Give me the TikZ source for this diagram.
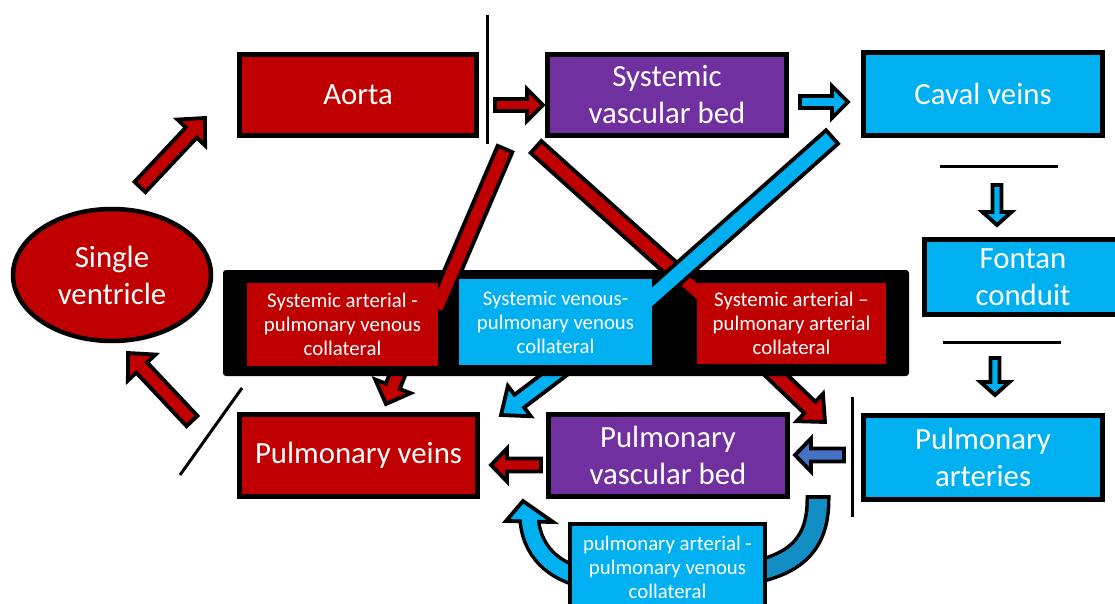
\documentclass[tikz,border=0pt]{standalone}
\usepackage{fontspec}
\setmainfont{Carlito}
\usetikzlibrary{calc,shapes.geometric}
\definecolor{cred}{RGB}{192,0,0}
\definecolor{cpurple}{RGB}{112,48,160}
\definecolor{ccyan}{RGB}{0,176,240}
\definecolor{cblue}{RGB}{68,114,196}
\definecolor{cdcyan}{RGB}{18,142,196}
\pgfdeclarelayer{l0}\pgfdeclarelayer{l1}\pgfdeclarelayer{l2}
\pgfsetlayers{l0,l1,l2,main}
\tikzset{
 box/.style={draw=black, line width=5pt, text=white, align=center, inner sep=0pt},
 inbox/.style={text=white, align=center, inner sep=0pt},
 bigtext/.style={font=\fontsize{30.8}{37}\selectfont},
 smalltext/.style={font=\fontsize{20.8}{24}\selectfont},
 arrowline/.style={draw=black, line width=3.8pt, line join=miter},
 sepline/.style={draw=black, line width=3pt},
}
\newcommand{\blockarrow}[6]{%
  \coordinate (BAneck) at ($(#3)!#6!(#2)$);
  \draw[arrowline, fill=#1] ($(#2)!#4!90:(#3)$) -- ($(BAneck)!#4!90:(#3)$) -- ($(BAneck)!#5!90:(#3)$) -- (#3) -- ($(BAneck)!#5!-90:(#3)$) -- ($(BAneck)!#4!-90:(#3)$) -- ($(#2)!#4!-90:(#3)$) -- cycle;
}
\newcommand{\bandarrow}[4]{%
  \draw[arrowline, fill=#1] ($(#2)!#4!90:(#3)$) -- ($(#3)!#4!-90:(#2)$) -- ($(#3)!#4!90:(#2)$) -- ($(#2)!#4!-90:(#3)$) -- cycle;
}
\begin{document}
\begin{tikzpicture}[x=1pt,y=-1pt]
\useasboundingbox (0,0) rectangle (1115,604);
% main boxes
\node[box, ellipse, line width=4.5pt, fill=cred, bigtext, minimum width=198pt, minimum height=132pt] (sv) at (112,275) {Single\\ventricle};
\node[box, fill=cred, bigtext, minimum width=237pt, minimum height=81pt] (aorta) at (358,95) {Aorta};
\node[box, fill=cpurple, bigtext, minimum width=239pt, minimum height=81pt] (svb) at (667,95) {Systemic\\vascular bed};
\node[box, fill=ccyan, bigtext, minimum width=239pt, minimum height=83pt] (caval) at (983,94) {Caval veins};
\node[box, fill=ccyan, bigtext, minimum width=197pt, minimum height=75pt] (fontan) at (1023,277) {Fontan\\conduit};
\node[box, fill=ccyan, bigtext, minimum width=239pt, minimum height=84pt] (pa) at (983,457.5) {Pulmonary\\arteries};
\node[box, fill=cpurple, bigtext, minimum width=239pt, minimum height=82pt] (pvb) at (668,455.5) {Pulmonary\\vascular bed};
\node[box, fill=cred, bigtext, minimum width=238pt, minimum height=82pt] (pv) at (358.5,455.5) {Pulmonary veins};
\node[inbox, fill=cred, smalltext, minimum width=191pt, minimum height=83pt] (c1) at (342.5,324.5) {Systemic arterial -\\pulmonary venous\\collateral};
\node[inbox, fill=ccyan, smalltext, minimum width=193pt, minimum height=86pt] (c2) at (555.5,322) {Systemic venous-\\pulmonary venous\\collateral};
\node[inbox, fill=cred, smalltext, minimum width=189pt, minimum height=81pt] (c3) at (791.5,323.5) {Systemic arterial –\\pulmonary arterial\\collateral};
\node[box, line width=4.5pt, fill=ccyan, smalltext, minimum width=195pt, minimum height=87pt] (c4) at (667.5,567.5) {pulmonary arterial -\\pulmonary venous\\collateral};
% black frame
\begin{pgfonlayer}{l1}
\node[fill=black, rounded corners=3pt, minimum width=686pt, minimum height=106pt, inner sep=0pt] (blk) at (566,323) {};
\end{pgfonlayer}
% separator lines
\coordinate (v1a) at (487,15); \coordinate (v1b) at (487,144);
\coordinate (h1a) at (940,167); \coordinate (h1b) at (1058,167);
\coordinate (h2a) at (943,342); \coordinate (h2b) at (1061,342);
\coordinate (v2a) at (852,397); \coordinate (v2b) at (852,517);
\coordinate (sla) at (242,388); \coordinate (slb) at (180,475);
\draw[sepline] (v1a) -- (v1b);
\draw[sepline] (h1a) -- (h1b);
\draw[sepline] (h2a) -- (h2b);
\draw[sepline] (v2a) -- (v2b);
\draw[sepline] (sla) -- (slb);
% main flow arrows
\coordinate (a1s) at (140,187); \coordinate (a1e) at (205,118);
\coordinate (a2s) at (192,421); \coordinate (a2e) at (128,353);
\coordinate (a3s) at (495,105); \coordinate (a3e) at (543,105);
\coordinate (a4s) at (800,102); \coordinate (a4e) at (848,102);
\coordinate (a5s) at (997,185); \coordinate (a5e) at (997,225);
\coordinate (a6s) at (995,358); \coordinate (a6e) at (995,395);
\coordinate (a7s) at (844,455); \coordinate (a7e) at (795,455);
\coordinate (a8s) at (541,465); \coordinate (a8e) at (491,465);
\blockarrow{cred}{a1s}{a1e}{7.5pt}{19pt}{20pt}
\blockarrow{cred}{a2s}{a2e}{7.5pt}{19pt}{20pt}
\blockarrow{cred}{a3s}{a3e}{6pt}{16pt}{16pt}
\blockarrow{ccyan}{a4s}{a4e}{6pt}{16pt}{16pt}
\blockarrow{ccyan}{a5s}{a5e}{4.5pt}{14.5pt}{13pt}
\blockarrow{ccyan}{a6s}{a6e}{4.5pt}{14.5pt}{13pt}
\blockarrow{cblue}{a7s}{a7e}{6.5pt}{16.5pt}{16pt}
\blockarrow{cred}{a8s}{a8e}{6.5pt}{16.5pt}{16pt}
% diagonal collateral bands (over the black frame, under the collateral boxes)
\coordinate (d1s) at (505,149); \coordinate (d1e) at (436,310);
\coordinate (d2s) at (536,147); \coordinate (d2e) at (720,312);
\coordinate (d3s) at (832,137); \coordinate (d3e) at (635,312);
\begin{pgfonlayer}{l2}
\bandarrow{cred}{d1s}{d1e}{8pt}
\bandarrow{cred}{d2s}{d2e}{8pt}
\bandarrow{ccyan}{d3s}{d3e}{9pt}
\end{pgfonlayer}
% arrows leaving the collateral frame, and curved arrows
\coordinate (l1s) at (405,355); \coordinate (l1e) at (386,404);
\coordinate (l2s) at (575,359); \coordinate (l2e) at (501,415);
\coordinate (l3s) at (755,355); \coordinate (l3e) at (825,422);
\coordinate (r0) at (818,495); \coordinate (r1) at (818,499); \coordinate (r2) at (755,572);
\coordinate (q1) at (585,578); \coordinate (q2) at (529,515);
\coordinate (hw1) at (506,521); \coordinate (ht) at (523,501); \coordinate (hw2) at (553,522);
\begin{pgfonlayer}{l0}
\blockarrow{cred}{l1s}{l1e}{7.5pt}{19pt}{19pt}
\blockarrow{ccyan}{l2s}{l2e}{8pt}{19pt}{23pt}
\blockarrow{cred}{l3s}{l3e}{8pt}{19pt}{21pt}
\draw[line width=25pt, black] (r0) -- (r1) .. controls (818,540) and (800,562) .. (r2);
\draw[line width=18pt, cdcyan] (r1) .. controls (818,540) and (800,562) .. (r2);
\draw[line width=22pt, black] (q1) .. controls (555,572) and (530,552) .. (q2);
\draw[arrowline, fill=ccyan] (hw1) -- (ht) -- (hw2) -- cycle;
\draw[line width=15pt, ccyan] (q1) .. controls (555,572) and (530,552) .. (q2);
\end{pgfonlayer}
\end{tikzpicture}
\end{document}
